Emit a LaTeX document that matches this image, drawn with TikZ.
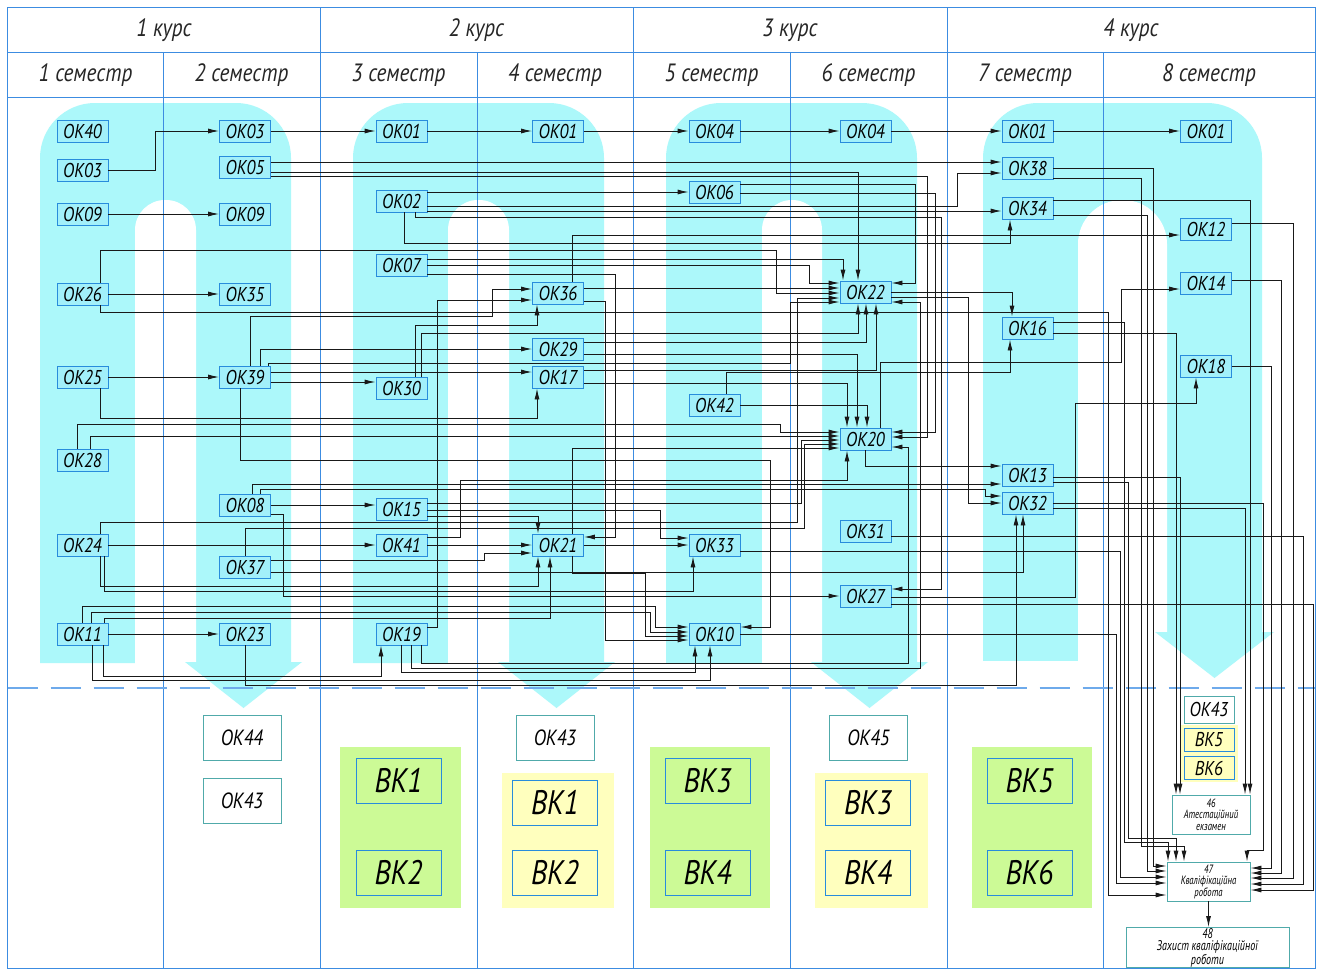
\documentclass[tikz,border=0pt]{standalone}
\usepackage{fontspec}
\setmainfont{PT Sans}
\newfontfamily\gost[FakeStretch=0.85]{PT Sans}
\newfontfamily\gostn[FakeStretch=0.72]{PT Sans}
\usetikzlibrary{arrows.meta,calc}
\definecolor{cy}{RGB}{172,248,250}
\definecolor{okfill}{RGB}{162,240,250}
\definecolor{okline}{RGB}{40,140,220}
\definecolor{gridc}{RGB}{60,140,225}
\definecolor{dashc}{RGB}{110,170,235}
\definecolor{tealc}{RGB}{80,170,170}
\definecolor{grn}{RGB}{204,250,150}
\definecolor{ylw}{RGB}{255,255,190}
\definecolor{ln}{RGB}{25,25,25}
\newcommand\okf{\gost\itshape\fontsize{20}{20}\selectfont}
\begin{document}
\begin{tikzpicture}[x=1pt,y=-1pt,
  ok/.style={draw=okline, fill=okfill, line width=0.9pt, minimum width=51pt, minimum height=22pt, inner sep=0pt, font=\okf, text=black},
  okb/.style={draw=tealc, fill=white, line width=1pt, minimum width=78pt, minimum height=45pt, inner sep=0pt, font=\gost\itshape\fontsize{22}{22}\selectfont},
  bk/.style={draw=okline, line width=0.9pt, minimum width=85pt, minimum height=45pt, inner sep=0pt, font=\gost\itshape\fontsize{34}{34}\selectfont},
  oks/.style={draw=tealc, fill=white, line width=0.9pt, minimum width=50pt, minimum height=23pt, inner sep=0pt, font=\gost\itshape\fontsize{20}{20}\selectfont},
  fin/.style={draw=tealc, fill=white, line width=0.9pt, inner sep=0pt, align=center, font=\gostn\itshape\fontsize{12}{11.5}\selectfont},
  arr/.style={draw=ln, line width=0.9pt, -{Latex[length=11pt,width=5pt]}},
  gridl/.style={draw=gridc, line width=1pt},
  hdr/.style={font=\gost\itshape\fontsize{25}{25}\selectfont, text=black!85}]
\useasboundingbox (0,0) rectangle (1317,969);
\fill[white] (0,0) rectangle (1317,969);
% cyan backgrounds
\foreach \La/\Wa/\Wb/\Rb in {40/135/196/291, 353/448/509/604, 666/762/822/917} {
  \fill[cy, rounded corners=55pt] (\La,663) -- (\La,103) -- (\Rb,103) -- (\Rb,663);
  \fill[white, rounded corners=30pt] (\Wa,664) -- (\Wa,200) -- (\Wb,200) -- (\Wb,664);
}
\fill[cy] (185,662) -- (243.5,708) -- (302,662) -- cycle;
\fill[cy] (498,662) -- (556.5,708) -- (615,662) -- cycle;
\fill[cy] (811,662) -- (869.5,708) -- (928,662) -- cycle;
\fill[cy, rounded corners=55pt] (983,633) -- (983,103) -- (1262,103) -- (1262,633);
\fill[cy] (983,620) rectangle (1078,661);
\fill[white, rounded corners=44pt] (1078,634) -- (1078,200) -- (1167,200) -- (1167,634);
\fill[cy] (1155,632) -- (1214.5,678) -- (1274,632) -- cycle;
% green / yellow areas
\fill[grn] (340,747) rectangle (461,908);
\fill[ylw] (502,773) rectangle (614,908);
\fill[grn] (650,747) rectangle (770,908);
\fill[ylw] (815,773) rectangle (928,908);
\fill[grn] (972,747) rectangle (1092,908);
\fill[ylw] (1180,725) rectangle (1238,782);
% grid
\draw[gridl] (7.5,7.5) rectangle (1315,968);
\draw[gridl] (7.5,52) -- (1315,52);
\draw[gridl] (7.5,97) -- (1315,97);
\foreach \x in {320,633,947} \draw[gridl] (\x,7.5) -- (\x,968);
\foreach \x in {163,477,790,1103} \draw[gridl] (\x,52) -- (\x,968);
\draw[dashc, line width=1.8pt, dash pattern=on 30pt off 13pt] (7.5,688) -- (1315,688);
% headers
\node[hdr] (k1) at (164,30) {1 курс};
\node[hdr] (k2) at (476.5,30) {2 курс};
\node[hdr] (k3) at (790,30) {3 курс};
\node[hdr] (k4) at (1131,30) {4 курс};
\node[hdr] (s1) at (85.5,75) {1 семестр};
\node[hdr] (s2) at (241.5,75) {2 семестр};
\node[hdr] (s3) at (398.5,75) {3 семестр};
\node[hdr] (s4) at (555,75) {4 семестр};
\node[hdr] (s5) at (711.5,75) {5 семестр};
\node[hdr] (s6) at (868.5,75) {6 семестр};
\node[hdr] (s7) at (1025,75) {7 семестр};
\node[hdr] (s8) at (1209,75) {8 семестр};
% nodes semester 1
\node[ok] (a40) at (82.5,131) {ОК40};
\node[ok] (a03) at (82.5,170) {ОК03};
\node[ok] (a09) at (82.5,214) {ОК09};
\node[ok] (a26) at (82.5,294) {ОК26};
\node[ok] (a25) at (82.5,377) {ОК25};
\node[ok] (a28) at (82.5,460) {ОК28};
\node[ok] (a24) at (82.5,545) {ОК24};
\node[ok] (a11) at (82.5,634) {ОК11};
% semester 2
\node[ok] (b03) at (245,131) {ОК03};
\node[ok] (b05) at (245,167) {ОК05};
\node[ok] (b09) at (245,214) {ОК09};
\node[ok] (b35) at (245,294) {ОК35};
\node[ok] (b39) at (245,377) {ОК39};
\node[ok] (b08) at (245,505) {ОК08};
\node[ok] (b37) at (245,567) {ОК37};
\node[ok] (b23) at (245,634) {ОК23};
% semester 3
\node[ok] (c01) at (401.5,131) {ОК01};
\node[ok] (c02) at (401.5,201) {ОК02};
\node[ok] (c07) at (401.5,265) {ОК07};
\node[ok] (c30) at (401.5,388) {ОК30};
\node[ok] (c15) at (401.5,509) {ОК15};
\node[ok] (c41) at (401.5,545) {ОК41};
\node[ok] (c19) at (401.5,634) {ОК19};
% semester 4
\node[ok] (d01) at (558,131) {ОК01};
\node[ok] (d36) at (558,293) {ОК36};
\node[ok] (d29) at (558,349) {ОК29};
\node[ok] (d17) at (558,377) {ОК17};
\node[ok] (d21) at (558,545) {ОК21};
% semester 5
\node[ok] (e04) at (714.5,131) {ОК04};
\node[ok] (e06) at (714.5,192) {ОК06};
\node[ok] (e42) at (714.5,405) {ОК42};
\node[ok] (e33) at (714.5,545) {ОК33};
\node[ok] (e10) at (714.5,634) {ОК10};
% semester 6
\node[ok] (f04) at (865.5,131) {ОК04};
\node[ok] (f22) at (865.5,292) {ОК22};
\node[ok] (f20) at (865.5,439) {ОК20};
\node[ok] (f31) at (865.5,531) {ОК31};
\node[ok] (f27) at (865.5,596) {ОК27};
% semester 7
\node[ok] (g01) at (1027.5,131) {ОК01};
\node[ok] (g38) at (1027.5,168) {ОК38};
\node[ok] (g34) at (1027.5,208) {ОК34};
\node[ok] (g16) at (1027.5,328) {ОК16};
\node[ok] (g13) at (1027.5,475) {ОК13};
\node[ok] (g32) at (1027.5,503) {ОК32};
% semester 8
\node[ok] (h01) at (1206,131) {ОК01};
\node[ok] (h12) at (1206,229) {ОК12};
\node[ok] (h14) at (1206,283) {ОК14};
\node[ok] (h18) at (1206,366) {ОК18};
% lower part
\node[okb] (k44) at (242,737.5) {ОК44};
\node[okb] (k43a) at (242,800.5) {ОК43};
\node[bk] (v1a) at (398.5,780.5) {ВК1};
\node[bk] (v2a) at (398.5,872.5) {ВК2};
\node[okb] (k43b) at (555,737.5) {ОК43};
\node[bk] (v1b) at (555,802.5) {ВК1};
\node[bk] (v2b) at (555,872.5) {ВК2};
\node[bk] (v3a) at (707.5,780.5) {ВК3};
\node[bk] (v4a) at (707.5,872.5) {ВК4};
\node[okb] (k45) at (868.5,737.5) {ОК45};
\node[bk] (v3b) at (868,802.5) {ВК3};
\node[bk] (v4b) at (868,872.5) {ВК4};
\node[bk] (v5a) at (1029.5,780.5) {ВК5};
\node[bk] (v6a) at (1029.5,872.5) {ВК6};
\node[oks, minimum height=27pt] (h43) at (1209,709.5) {ОК43};
\node[oks, fill=ylw, draw=okline] (h5) at (1209,739.5) {ВК5};
\node[oks, fill=ylw, draw=okline] (h6) at (1209,768) {ВК6};
\node[fin, minimum width=78pt, minimum height=39pt] (n46) at (1211,814.5) {46\\Атестаційний\\екзамен};
\node[fin, minimum width=83pt, minimum height=39pt] (n47) at (1208.5,881.5) {47\\Кваліфікаційна\\робота};
\node[fin, minimum width=163pt, minimum height=40pt, font=\gostn\itshape\fontsize{14}{12}\selectfont] (n48) at (1207.5,947.5) {48\\Захист кваліфікаційної\\роботи};
% ---------------- connectors ----------------
\draw[arr] (a03.east) -- (155,170) |- (b03.west);
\draw[arr] (a09) -- (b09);
\draw[arr] (a26) -- (b35);
\draw[arr] (a25) -- (b39);
\draw[arr] (a11) -- (b23);
\draw[arr] (b03) -- (c01);
\draw[arr] (c01) -- (d01);
\draw[arr] (d01) -- (e04);
\draw[arr] (e04) -- (f04);
\draw[arr] (f04) -- (g01);
\draw[arr] (g01) -- (h01);
% OK05
\draw[arr] ($(b05.east)+(0,-5)$) -- ($(g38.west)+(0,-6)$);
\draw[arr] ($(b05.east)+(0,5)$) -| ($(f22.north)+(-7.5,0)$);
\draw[arr] ($(b05.east)+(0,9)$) -| (927,437) -- ($(f20.east)+(0,-2)$);
% OK02
\draw[arr] (c02.east |- e06.west) -- (e06.west);
\draw[arr] ($(c02.east)+(0,5)$) -| (957,173) -- ($(g38.west)+(0,5)$);
\draw[arr] ($(c02.east)+(0,10)$) -- ($(g34.west)+(0,3)$);
\draw[arr] ($(c02.south)+(13.5,0)$) |- (941,217) |- ($(f27.east)+(0,-7)$);
\draw[arr] ($(c02.south)+(2.5,0)$) |- (1010,243) -- ($(g34.south)+(-17.5,0)$);
% OK07
\draw[arr] ($(c07.east)+(0,-6)$) -| ($(f22.north)+(-22.5,0)$);
\draw[arr] (c07.east) -| (809,283) -- ($(f22.west)+(0,-9)$);
\draw[arr] ($(c07.east)+(0,9)$) -| (615,537) -- ($(d21.east)+(0,-8)$);
% OK26
\draw[arr] ($(a26.north)+(17.5,0)$) |- (776,250) |- ($(f22.west)+(0,1)$);
\draw[arr] ($(a26.south)+(17.5,0)$) |- (1108,312) |- ($(n47.west)+(0,13.5)$);
% OK25
\draw[arr] ($(a25.south)+(17.5,0)$) |- (537,418) -- ($(d17.south)+(-21,0)$);
% OK28
\draw[arr] ($(a28.north)+(-5.5,0)$) |- (780,424) |- ($(f20.west)+(0,-7)$);
\draw[arr] ($(a28.north)+(7.5,0)$) |- ($(f20.west)+(0,-3)$);
% OK24
\draw[arr] (a24.east) -- (c41.west |- a24.east);
\draw[arr] ($(a24.north)+(17.5,0)$) |- (797,522) |- ($(f22.west)+(0,6)$);
\draw[arr] ($(a24.south)+(17.5,0)$) |- (538,586) -- ($(d21.south)+(-20,0)$);
\draw[arr] ($(a24.south)+(21.5,0)$) |- (693,591) -- ($(e33.south)+(-21.5,0)$);
% OK11
\draw[arr] ($(a11.north)+(-0.5,0)$) |- (655,606) |- ($(e10.west)+(0,-7)$);
\draw[arr] ($(a11.north)+(8.5,0)$) |- (650,612) |- ($(e10.west)+(0,-2)$);
\draw[arr] ($(a11.north)+(21.5,0)$) |- (550,618) -- ($(d21.south)+(-8,0)$);
\draw[arr] ($(a11.south)+(9.5,0)$) |- (710,680) -- ($(e10.south)+(-4.5,0)$);
\draw[arr] ($(a11.south)+(20.5,0)$) |- (381,676) -- ($(c19.south)+(-20.5,0)$);
% OK39
\draw[arr] ($(b39.north)+(5,0)$) |- (492,316) |- ($(d36.west)+(0,-4)$);
\draw[arr] ($(b39.north)+(15,0)$) |- (d29.west);
\draw[arr] ($(b39.north)+(23,0)$) |- (790,363) |- ($(f22.west)+(0,10)$);
\draw[arr] ($(b39.east)+(0,-5)$) -- ($(d17.west)+(0,-5)$);
\draw[arr] ($(b39.east)+(0,5)$) -- ($(c30.west)+(0,-6)$);
\draw[arr] ($(b39.south)+(-5,0)$) |- (770,460) |- ($(e10.east)+(0,-7)$);
% OK08
\draw[arr] ($(b08.north)+(7,0)$) |- ($(g13.west)+(0,9)$);
\draw[arr] ($(b08.north)+(15,0)$) |- (985,489) |- ($(g32.west)+(0,-7)$);
\draw[arr] (b08.east) -- (c15.west |- b08.east);
\draw[arr] ($(b08.east)+(0,9)$) -| (283,596) -- (f27.west);
% OK37
\draw[arr] (b37.north) |- (804,528) |- ($(f20.west)+(0,5)$);
\draw[arr] ($(b37.east)+(0,-7)$) -| (484,553) -- ($(d21.west)+(0,8)$);
\draw[arr] ($(b37.east)+(0,5)$) -| ($(g32.south)+(-4.5,0)$);
% OK23
\draw[arr] (b23.south) |- (1016,685) -- ($(g32.south)+(-11.5,0)$);
% OK30
\draw[arr] ($(c30.north)+(13.5,0)$) |- (537,325) -- ($(d36.south)+(-21,0)$);
\draw[arr] ($(c30.north)+(19.5,0)$) |- (858,333) -- ($(f22.south)+(-7.5,0)$);
% OK15
\draw[arr] ($(c15.east)+(0,-6)$) -| (801,440) -- ($(f20.west)+(0,1)$);
\draw[arr] ($(c15.east)+(0,1)$) -| (660,538) -- ($(e33.west)+(0,-7)$);
\draw[arr] ($(c15.east)+(0,7)$) -| ($(d21.north)+(-20,0)$);
% OK41
\draw[arr] ($(c41.east)+(0,-8)$) -| (460,480) -| ($(f20.south)+(-18.5,0)$);
\draw[arr] (c41.east) -- (d21.west);
% OK19
\draw[arr] ($(c19.east)+(0,-7)$) -| (437,300) -- ($(d36.west)+(0,7)$);
\draw[arr] (c19.south) |- (695,672) -- ($(e10.south)+(-19.5,0)$);
\draw[arr] ($(c19.south)+(9.5,0)$) |- (920,668) |- ($(f22.east)+(0,10)$);
\draw[arr] ($(c19.south)+(19.5,0)$) |- (908,663) |- ($(f20.east)+(0,8)$);
% OK36
\draw[arr] ($(d36.north)+(14,0)$) |- ($(h12.west)+(0,6)$);
\draw[arr] ($(d36.east)+(0,-5)$) -- ($(f22.west)+(0,-4)$);
\draw[arr] ($(d36.east)+(0,8)$) -| (605,640) -- ($(e10.west)+(0,6)$);
% OK29
\draw[arr] ($(d29.east)+(0,-7)$) -| ($(f22.south)+(0.5,0)$);
\draw[arr] ($(d29.east)+(0,5)$) -| ($(f20.north)+(-8.5,0)$);
% OK17
\draw[arr] ($(d17.east)+(0,-7)$) -| ($(f22.south)+(10.5,0)$);
\draw[arr] ($(d17.east)+(0,6)$) -| ($(f20.north)+(-18.5,0)$);
% OK21
\draw[arr] ($(d21.north)+(14,0)$) |- ($(f20.west)+(0,9)$);
\draw[arr] ($(d21.south)+(14,0)$) |- (645,573) |- ($(e10.west)+(0,2)$);
\draw[arr] (d21.east) -- (e33.west);
% OK06
\draw[arr] ($(e06.east)+(0,-8)$) -| (915,283) -- ($(f22.east)+(0,-9)$);
\draw[arr] ($(e06.east)+(0,1)$) -| (935,432) -- ($(f20.east)+(0,-7)$);
% OK42
\draw[arr] ($(e42.north)+(11.5,0)$) |- (1010,372) -- ($(g16.south)+(-17.5,0)$);
\draw[arr] (e42.east) -| ($(f20.north)+(1.5,0)$);
% OK33, OK10
\draw[arr] ($(e33.east)+(0,6)$) -| (1120,877) -- ($(n47.west)+(0,-4.5)$);
\draw[arr] (e10.east) -| (1116,883) -- ($(n47.west)+(0,1.5)$);
% OK22
\draw[arr] (f22.east) -| ($(g16.north)+(-15.5,0)$);
\draw[arr] ($(f22.east)+(0,5)$) -| (968,503) -- (g32.west);
% OK20
\draw[arr] (f20.south) |- ($(g13.west)+(0,-9)$);
\draw[arr] ($(f20.north)+(14.5,0)$) |- (1121,362) |- ($(h14.west)+(0,6)$);
% OK27, OK31
\draw[arr] ($(f27.east)+(0,1)$) -| (1075,403) -| ($(h18.south)+(-10,0)$);
\draw[arr] ($(f27.east)+(0,8)$) -| (1313,890) -- ($(n47.east)+(0,8.5)$);
\draw[arr] ($(f31.east)+(0,5)$) -| (1303,884) -- ($(n47.east)+(0,2.5)$);
% semester 8 outputs
\draw[arr] ($(h12.east)+(0,-6)$) -| (1293,878) -- ($(n47.east)+(0,-3.5)$);
\draw[arr] ($(h14.east)+(0,-3)$) -| (1281,873) -- ($(n47.east)+(0,-8.5)$);
\draw[arr] (h18.east) -| (1271,868) -- ($(n47.east)+(0,-13.5)$);
% semester 7 outputs
\draw[arr] (g38.east) -| (1153,866) -- ($(n47.west)+(0,-15.5)$);
\draw[arr] ($(g38.east)+(0,10)$) -| (1141,846) -| ($(n47.north)+(-24.5,0)$);
\draw[arr] ($(g34.east)+(0,-8)$) -| ($(n46.north)+(39,0)$);
\draw[arr] ($(g34.east)+(0,7)$) -| (1147,871) -- ($(n47.west)+(0,-10.5)$);
\draw[arr] ($(g16.east)+(0,-6)$) -| (1124,842) -| ($(n47.north)+(-40.5,0)$);
\draw[arr] ($(g16.east)+(0,5)$) -| ($(n46.north)+(-35,0)$);
\draw[arr] ($(g13.east)+(0,2)$) -| ($(n46.north)+(-31,0)$);
\draw[arr] ($(g13.east)+(0,7)$) -| (1128,838) -| ($(n47.north)+(-32.5,0)$);
\draw[arr] (g32.east) -| (1263,850) -| ($(n47.north)+(38.5,0)$);
\draw[arr] ($(g32.east)+(0,5)$) -| ($(n46.north)+(34,0)$);
\draw[arr] (n47.south) -- (n47.south |- n48.north);
\end{tikzpicture}
\end{document}
